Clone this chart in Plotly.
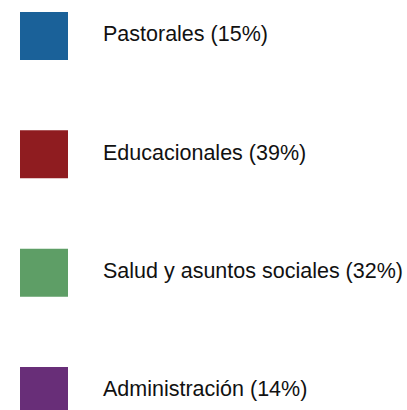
import plotly.graph_objects as go

categories = ["Pastorales", "Educacionales", "Salud y asuntos sociales", "Administración"]
percentages = [15, 39, 32, 14]
colors = ["#1a6199", "#8f1c20", "#5e9e66", "#682e78"]

labels = [f"{c} ({p}%)" for c, p in zip(categories, percentages)]
ypos = list(range(len(categories)))

fig = go.Figure()
for i, (lab, col) in enumerate(zip(labels, colors)):
    fig.add_trace(go.Scatter(
        x=[44], y=[ypos[i]], mode="markers",
        marker=dict(symbol="square", size=48, color=col, line=dict(width=0)),
        hoverinfo="skip", showlegend=False,
    ))
fig.add_trace(go.Scatter(
    x=[103] * len(labels), y=ypos, mode="text", text=labels,
    textposition="middle right",
    textfont=dict(family="Liberation Sans, Arial, sans-serif", size=21.5, color="#111111"),
    hoverinfo="skip", showlegend=False,
))

fig.update_layout(
    width=407, height=410,
    margin=dict(l=0, r=0, t=0, b=0),
    paper_bgcolor="white", plot_bgcolor="white",
    xaxis=dict(range=[0, 407], visible=False, fixedrange=True),
    yaxis=dict(range=[3.1606, -0.3042], visible=False, fixedrange=True),
)

fig.write_html("out.html", config={"displayModeBar": False},
               post_script="document.body.style.margin='0';")
